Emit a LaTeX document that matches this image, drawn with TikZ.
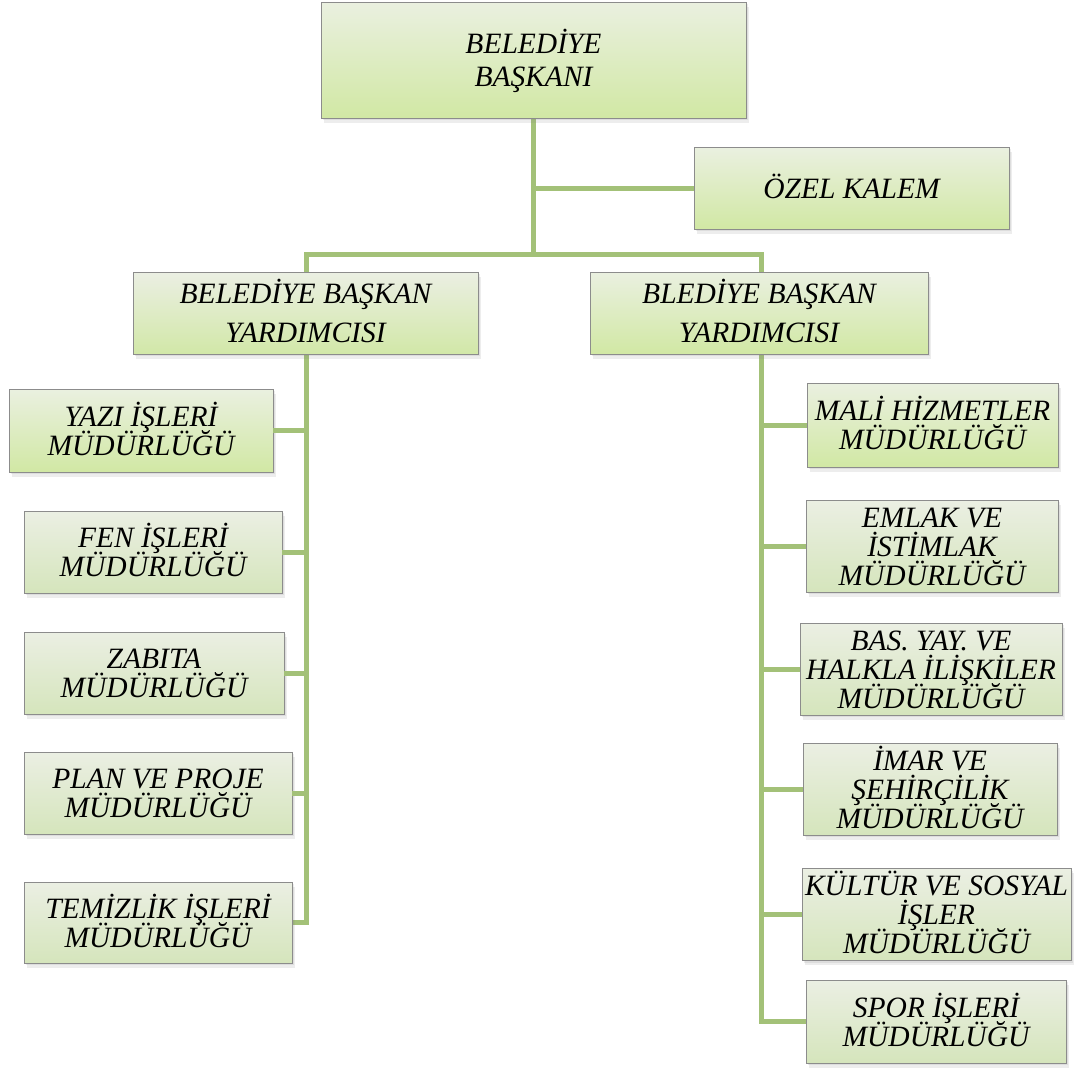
\documentclass[tikz,border=0pt]{standalone}
\usepackage{fontspec}
\setmainfont{Liberation Serif}
\usetikzlibrary{shadows}
\definecolor{ln}{HTML}{A3C178}
\definecolor{gtop}{HTML}{EAF0E0}
\definecolor{gbot}{HTML}{D1E8A4}
\definecolor{htop}{HTML}{EBEFE3}
\definecolor{hbot}{HTML}{D5E5BC}
\newcommand\hs{\rule{0pt}{27pt}}
\newcommand\ds{\rule[-7pt]{0pt}{7pt}}
\newcommand\nls{\lineskiplimit-50pt\relax}
\tikzset{
  box/.style={draw=black!45, line width=0.8pt, top color=gtop, bottom color=gbot,
    drop shadow={opacity=0.14, shadow xshift=1.5pt, shadow yshift=-2pt},
    drop shadow={opacity=0.14, shadow xshift=3pt, shadow yshift=-4.5pt},
    inner sep=0pt, align=center,
    font=\itshape\fontsize{29.5}{29}\selectfont\nls},
  boxb/.style={box, top color=htop, bottom color=hbot},
  head/.style={font=\itshape\fontsize{29.5}{33}\selectfont\nls},
  dep/.style={font=\itshape\fontsize{29.5}{39}\selectfont\nls},
  conn/.style={draw=ln, line width=5pt, line join=miter},
}
\begin{document}
\begin{tikzpicture}[x=1pt,y=-1pt]
\fill[white] (0,0) rectangle (1074,1068);
\useasboundingbox (0,0) rectangle (1074,1068);
% anchors for connectors (drawn first so the boxes cover them)
\coordinate (hub) at (533,254);
\coordinate (topS) at (533,118);
\coordinate (ozW) at (694,188);
\coordinate (lX) at (306,254);
\coordinate (rX) at (761,254);
\draw[conn] (topS) -- (hub);
\draw[conn] (ozW) -- (ozW -| hub);
\draw[conn] (lX |- 0,272) -- (lX) -- (rX) -- (rX |- 0,272);
% nodes
\node[box, head, minimum width=425pt, minimum height=116pt] (top) at (533.5,60) {\hs BELEDİYE\\BAŞKANI\ds};
\node[box, minimum width=315pt, minimum height=82pt] (ozel) at (851.5,188) {\hs ÖZEL KALEM\ds};
% column trunks
\draw[conn] (lX |- 0,354) -- (lX |- 0,922.5) -- (292,922.5);
\draw[conn] (rX |- 0,354) -- (rX |- 0,1021.5) -- (806,1021.5);
\node[box, dep, top color=htop, bottom color=gbot!85!hbot, minimum width=345pt, minimum height=82pt] (ldep) at (305.5,313) {\hs BELEDİYE BAŞKAN\\YARDIMCISI\ds};
\node[box, dep, minimum width=338pt, minimum height=82pt] (rdep) at (759,313) {\hs BLEDİYE BAŞKAN\\YARDIMCISI\ds};
% left column
\node[box, minimum width=264pt, minimum height=83pt] (yazi) at (141,430.5) {\hs YAZI İŞLERİ\\MÜDÜRLÜĞÜ\ds};
\node[boxb, minimum width=258pt, minimum height=82pt] (fen) at (153,552) {\hs FEN İŞLERİ\\MÜDÜRLÜĞÜ\ds};
\node[boxb, minimum width=260pt, minimum height=82pt] (zabita) at (154,673) {\hs ZABITA\\MÜDÜRLÜĞÜ\ds};
\node[boxb, minimum width=268pt, minimum height=82pt] (plan) at (158,793) {\hs PLAN VE PROJE\\MÜDÜRLÜĞÜ\ds};
\node[boxb, minimum width=268pt, minimum height=81pt] (temiz) at (158,922.5) {\hs TEMİZLİK İŞLERİ\\MÜDÜRLÜĞÜ\ds};
% right column
\node[box, minimum width=251pt, minimum height=84pt] (mali) at (932.5,425) {\hs MALİ HİZMETLER\\MÜDÜRLÜĞÜ\ds};
\node[boxb, minimum width=252pt, minimum height=82pt] (emlak) at (932,546) {\hs EMLAK VE\\İSTİMLAK\\MÜDÜRLÜĞÜ\ds};
\node[boxb, minimum width=262pt, minimum height=84pt] (bas) at (931,669) {\hs BAS. YAY. VE\\HALKLA İLİŞKİLER\\MÜDÜRLÜĞÜ\ds};
\node[boxb, minimum width=254pt, minimum height=82pt] (imar) at (930,789) {\hs İMAR VE\\ŞEHİRÇİLİK\\MÜDÜRLÜĞÜ\ds};
\node[boxb, minimum width=269pt, minimum height=83pt] (kultur) at (936.5,914.5) {\hs KÜLTÜR VE SOSYAL\\İŞLER\\MÜDÜRLÜĞÜ\ds};
\node[boxb, minimum width=260pt, minimum height=83pt] (spor) at (936,1021.5) {\hs SPOR İŞLERİ\\MÜDÜRLÜĞÜ\ds};
% branch connectors
\foreach \n in {yazi,fen,zabita,plan}
  \draw[conn] (\n.east) -- (\n.east -| ldep.south);
\foreach \n in {mali,emlak,bas,imar,kultur}
  \draw[conn] (\n.west) -- (\n.west -| rdep.south);
\end{tikzpicture}
\end{document}
